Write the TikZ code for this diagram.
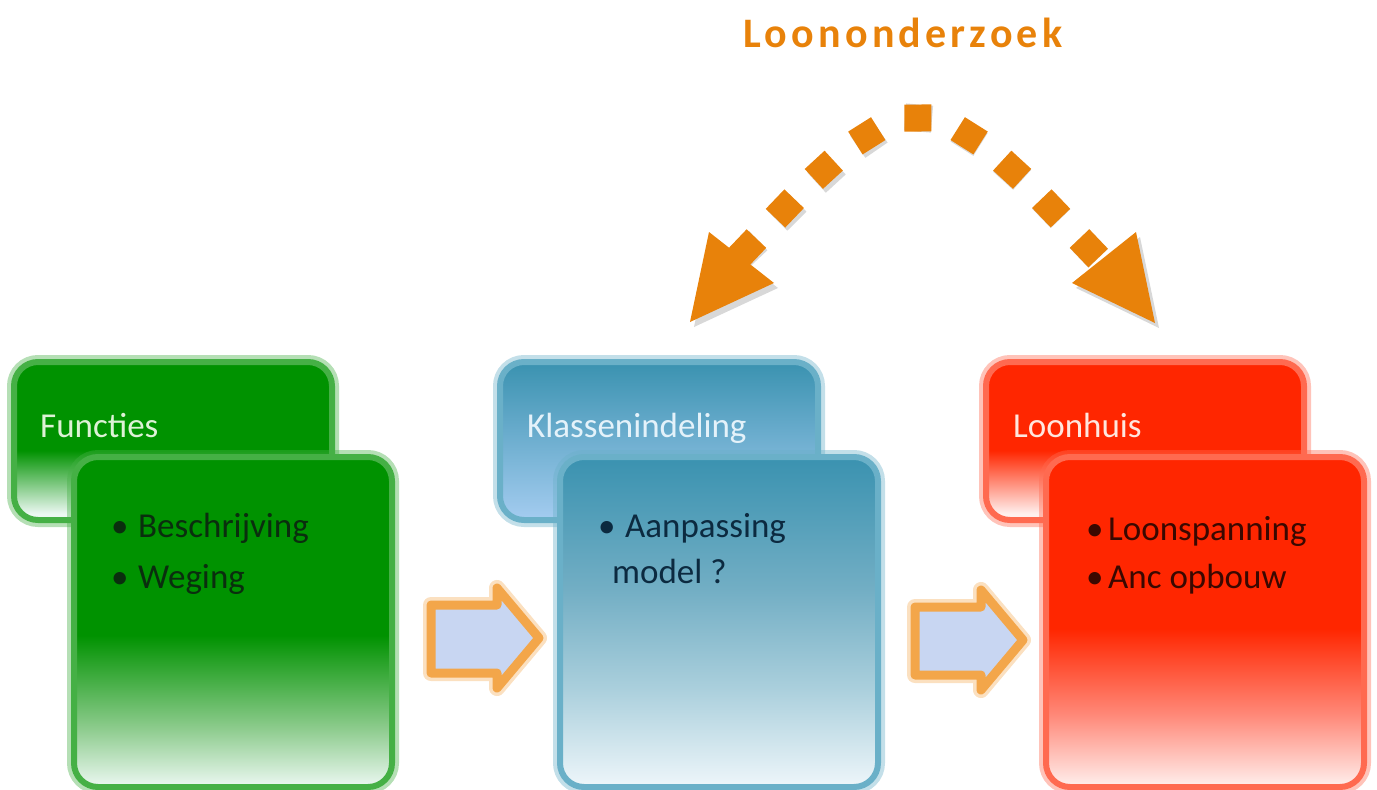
\documentclass[tikz,border=0pt]{standalone}
\usepackage{fontspec}
\setmainfont{Carlito}
\newfontfamily\titlefont[LetterSpace=10]{Carlito}
\usetikzlibrary{decorations.markings}

\definecolor{gfill}{HTML}{009200}
\definecolor{gedge}{HTML}{45B045}
\definecolor{gmid}{HTML}{8CCB8C}
\definecolor{gw}{HTML}{ECF8F2}
\definecolor{bfill}{HTML}{3A92B0}
\definecolor{bedge}{HTML}{6AB0C8}
\definecolor{bmid}{HTML}{72AEC4}
\definecolor{blight}{HTML}{AACFDC}
\definecolor{bw}{HTML}{EEF6FA}
\definecolor{bback}{HTML}{A4CCF0}
\definecolor{rfill}{HTML}{FF2600}
\definecolor{redge}{HTML}{FF6A50}
\definecolor{rmid}{HTML}{FF8878}
\definecolor{rw}{HTML}{FFF0EE}
\definecolor{orng}{HTML}{E8820A}
\definecolor{arrEdge}{HTML}{F3A64A}
\definecolor{arrFill}{HTML}{C8D6F2}
\definecolor{gtext}{HTML}{0A2E0E}
\definecolor{btext}{HTML}{0C2A40}
\definecolor{rtext}{HTML}{3A0800}
\definecolor{gtitle}{HTML}{DDF2D6}
\definecolor{btitle}{HTML}{E4F2FA}
\definecolor{rtitle}{HTML}{FFE6DE}

\pgfdeclareverticalshading{gfront}{100bp}{color(0bp)=(gw); color(25bp)=(gw); color(34bp)=(gmid); color(48bp)=(gfill); color(100bp)=(gfill)}
\pgfdeclareverticalshading{gback}{100bp}{color(0bp)=(gw); color(27bp)=(gw); color(47bp)=(gfill); color(100bp)=(gfill)}
\pgfdeclareverticalshading{bfront}{100bp}{color(0bp)=(bw); color(25bp)=(bw); color(40bp)=(blight); color(55bp)=(bmid); color(75bp)=(bfill); color(100bp)=(bfill)}
\pgfdeclareverticalshading{bbackshade}{100bp}{color(0bp)=(bback); color(25bp)=(bback); color(75bp)=(bfill); color(100bp)=(bfill)}
\pgfdeclareverticalshading{rfront}{100bp}{color(0bp)=(rw); color(25bp)=(rw); color(36bp)=(rmid); color(49bp)=(rfill); color(100bp)=(rfill)}
\pgfdeclareverticalshading{rback}{100bp}{color(0bp)=(rw); color(27bp)=(rw); color(47bp)=(rfill); color(100bp)=(rfill)}

\tikzset{
  card/.style={rectangle, rounded corners=24pt, inner sep=0pt, outer sep=0pt, anchor=north west, line width=6pt},
  backcard/.style={card, minimum width=318pt, minimum height=158pt},
  frontcard/.style={card, minimum width=318pt, minimum height=330pt},
  glow/.style={preaction={draw=#1, line width=14pt, opacity=0.4}},
  ttl/.style={anchor=base west, inner sep=0pt, font=\fontsize{35pt}{42pt}\selectfont},
  bul/.style={anchor=base west, inner sep=0pt, font=\fontsize{35pt}{42pt}\selectfont},
  blockarrow/.style={draw=arrEdge, line width=9pt, line join=round, fill=arrFill,
     preaction={draw=arrEdge, line width=16pt, opacity=0.35, line join=round}},
}

\begin{document}
\begin{tikzpicture}[x=1pt,y=-1pt]
\useasboundingbox (0,0) rectangle (1377,790);

% ---------- green ----------
\node[backcard, draw=gedge, shading=gback, glow=gedge] (gb) at (14,362) {};
\node[frontcard, draw=gedge, shading=gfront, glow=gedge] (gf) at (74,457) {};
\node[ttl, text=gtitle] (gt) at (40,437) {Functies};
\node[bul, text=gtext] (g1) at (111,537) {\makebox[27pt][l]{\textbullet}Beschrijving};
\node[bul, text=gtext] (g2) at (111,588) {\makebox[27pt][l]{\textbullet}Weging};

% ---------- blue ----------
\node[backcard, draw=bedge, shading=bbackshade, glow=bedge] (bb) at (500,362) {};
\node[frontcard, draw=bedge, shading=bfront, glow=bedge] (bf) at (560,457) {};
\node[ttl, text=btitle] (bt) at (527,437) {Klassenindeling};
\node[bul, text=btext] (b1) at (598,537) {\makebox[27pt][l]{\textbullet}Aanpassing};
\node[bul, text=btext] (b2) at (612,583) {model ?};

% ---------- red ----------
\node[backcard, draw=redge, shading=rback, glow=redge] (rb) at (986,362) {};
\node[frontcard, draw=redge, shading=rfront, glow=redge] (rf) at (1046,457) {};
\node[ttl, text=rtitle] (rt) at (1013,437) {Loonhuis};
\node[bul, text=rtext] (r1) at (1086,540) {\makebox[22pt][l]{\textbullet}Loonspanning};
\node[bul, text=rtext] (r2) at (1086,588) {\makebox[22pt][l]{\textbullet}Anc opbouw};

% ---------- block arrows ----------
\draw[blockarrow] (431,605) -- (497,605) -- (497,588) -- (539,638) -- (497,688) -- (497,673) -- (431,673) -- cycle;
\draw[blockarrow] (915,607) -- (981,607) -- (981,590) -- (1023,640) -- (981,690) -- (981,675) -- (915,675) -- cycle;

% ---------- title ----------
\node[text=orng, font=\titlefont\bfseries\fontsize{42pt}{48pt}\selectfont, inner sep=0pt] (title) at (903,33) {Loononderzoek};

% ---------- curved dashed double arrow ----------
\coordinate (arcL) at (728,268);
\coordinate (arcT) at (918,118);
\coordinate (arcR) at (1108,268);
\begin{scope}[shift={(4,5)}, opacity=0.22]
\path[decorate, decoration={markings, mark=between positions 0.0555 and 0.96 step 0.1111 with {\fill[black!70] (-13.5pt,-13.5pt) rectangle (13.5pt,13.5pt);}}]
  (arcL) .. controls (788,208) and (858,118) .. (arcT) .. controls (978,118) and (1048,208) .. (arcR);
\fill[black!70] (690,322) -- (709,232) -- (774,283) -- cycle;
\fill[black!70] (1155,323) -- (1136,232) -- (1072,283) -- cycle;
\end{scope}
\path[decorate, decoration={markings, mark=between positions 0.0555 and 0.96 step 0.1111 with {\fill[orng] (-13.5pt,-13.5pt) rectangle (13.5pt,13.5pt);}}]
  (arcL) .. controls (788,208) and (858,118) .. (arcT) .. controls (978,118) and (1048,208) .. (arcR);
\fill[orng] (690,322) -- (709,232) -- (774,283) -- cycle;
\fill[orng] (1155,323) -- (1136,232) -- (1072,283) -- cycle;
\end{tikzpicture}
\end{document}
